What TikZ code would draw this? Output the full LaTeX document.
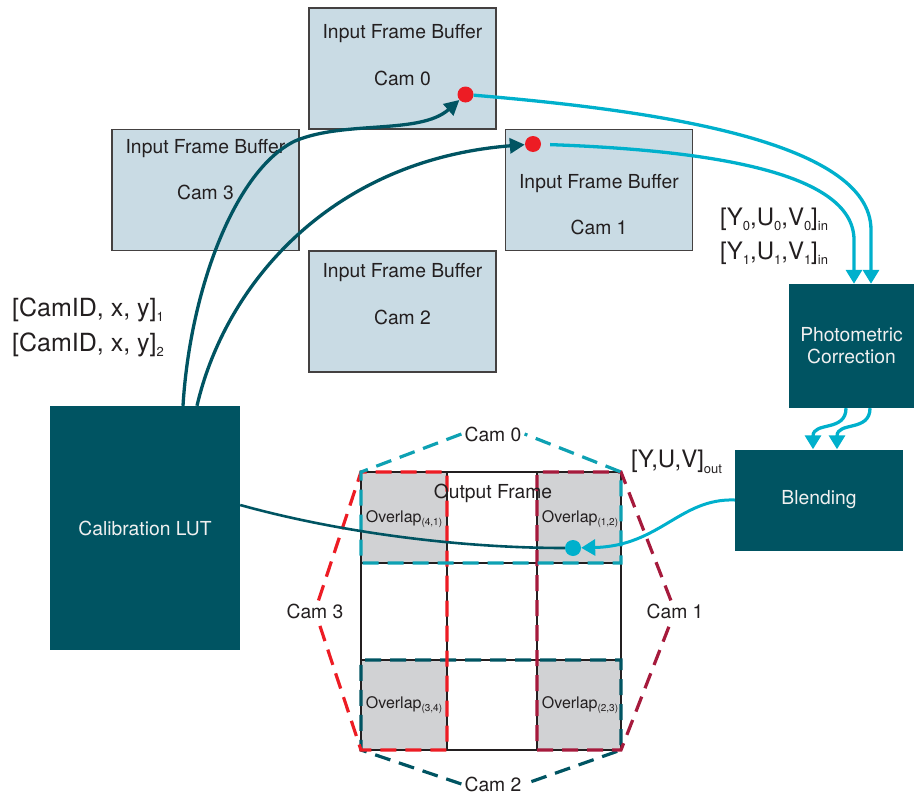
\documentclass[tikz,border=0pt]{standalone}
\usepackage{fontspec}
\setmainfont{TeX Gyre Heros}
\usetikzlibrary{arrows.meta,calc}

\definecolor{deepteal}{HTML}{005462}
\definecolor{skycyan}{HTML}{00B0CC}
\definecolor{camzero}{HTML}{0EA1B3}
\definecolor{camthree}{HTML}{ED1C24}
\definecolor{camone}{HTML}{A61A3C}
\definecolor{buffill}{HTML}{C9DBE4}
\definecolor{lapgray}{HTML}{D1D2D4}
\definecolor{inkgray}{HTML}{231F20}
\definecolor{dotred}{HTML}{ED1C24}

% lowered small text for subscripts
\newcommand{\bigsub}[1]{\raisebox{-5.5pt}{\fontsize{13}{13}\selectfont #1}}
\newcommand{\lapsub}[1]{\raisebox{-3pt}{\fontsize{10}{10}\selectfont #1}}

\begin{document}
\begin{tikzpicture}[x=1pt,y=-1pt,
  buffer/.style={draw=inkgray!85, line width=1.4pt, fill=buffill,
    minimum width=187pt, minimum height=121pt, inner sep=0pt},
  buftext/.style={text=inkgray, font=\fontsize{19.3}{22}\selectfont, inner sep=0pt},
  darkbox/.style={fill=deepteal, text=white!94!black,
    font=\fontsize{19.3}{22}\selectfont, inner sep=0pt, align=center},
  biglabel/.style={text=inkgray, align=left, anchor=west, inner sep=0pt},
  camlabel/.style={text=inkgray, font=\fontsize{19.3}{22}\selectfont, inner sep=3pt},
  laptext/.style={text=inkgray, font=\fontsize{16}{18}\selectfont, inner sep=0pt},
  reddot/.style={circle, fill=dotred, minimum size=16pt, inner sep=0pt},
  cyandot/.style={circle, fill=skycyan, minimum size=16pt, inner sep=0pt},
  camdash/.style={line width=3.2pt, dash pattern=on 16pt off 9pt},
  tealarrow/.style={draw=deepteal, line width=3.3pt,
    -{Triangle[length=15pt,width=15pt]}},
  cyanarrow/.style={draw=skycyan, line width=3.3pt,
    -{Triangle[length=14pt,width=16pt]}},
  gridline/.style={draw=inkgray, line width=1.3pt}
]
\useasboundingbox (0,0) rectangle (914,795);

% input frame buffers
\node[buffer] (buf0) at (402.5,68.5) {};
\node[buffer] (buf3) at (205.5,190) {};
\node[buffer] (buf1) at (599,190) {};
\node[buffer] (buf2) at (402.5,311.5) {};
\node[buftext] (b0t) at (402.5,34) {Input Frame Buffer};
\node[buftext] (b0c) at (402.5,78) {Cam 0};
\node[buftext] (b3t) at (205.5,149) {Input Frame Buffer};
\node[buftext] (b3c) at (205.5,192) {Cam 3};
\node[buftext] (b1t) at (599,184) {Input Frame Buffer};
\node[buftext] (b1c) at (599,227) {Cam 1};
\node[buftext] (b2t) at (402.5,273) {Input Frame Buffer};
\node[buftext] (b2c) at (402.5,317) {Cam 2};

% processing blocks
\node[darkbox, minimum width=190pt, minimum height=244pt] (lut) at (145,528) {Calibration LUT};
\node[darkbox, minimum width=125pt, minimum height=124pt] (photo) at (851.5,346) {Photometric\\Correction};
\node[darkbox, minimum width=168pt, minimum height=101pt] (blend) at (819,500) {Blending};

% data labels
\node[biglabel, font=\fontsize{25}{35}\selectfont] (lutdata) at (12,327)
  {{[}CamID, x, y{]}\bigsub{1}\\{[}CamID, x, y{]}\bigsub{2}};
\node[biglabel, font=\fontsize{24}{34}\selectfont] (yuvin) at (720,236)
  {{[}Y\bigsub{0},U\bigsub{0},V\bigsub{0}{]}\bigsub{in}\\{[}Y\bigsub{1},U\bigsub{1},V\bigsub{1}{]}\bigsub{in}};
\node[biglabel, font=\fontsize{24}{34}\selectfont] (yuvout) at (631,462)
  {{[}Y,U,V{]}\bigsub{out}};

% output frame: overlap regions and grid
\fill[lapgray] (361,472) rectangle (447,563);
\fill[lapgray] (537,472) rectangle (621,563);
\fill[lapgray] (361,660) rectangle (447,750);
\fill[lapgray] (537,660) rectangle (621,750);
\draw[gridline] (361,472) rectangle (621,750);
\draw[gridline] (447,472) -- (447,750) (537,472) -- (537,750)
  (361,563) -- (621,563) (361,660) -- (621,660);

% camera coverage outlines
\node[camlabel] (lbl0) at (493,434) {Cam 0};
\node[camlabel] (lbl2) at (493,784) {Cam 2};
\node[camlabel] (lbl3) at (315,611) {Cam 3};
\node[camlabel] (lbl1) at (675,611) {Cam 1};
\draw[camdash, draw=deepteal] (lbl2.west) -- (361,750) -- (361,660) -- (621,660) -- (621,750) -- (lbl2.east);
\draw[camdash, draw=camthree] (lbl3) -- (361,472) -- (447,472) -- (447,750) -- (361,750) -- (lbl3);
\draw[camdash, draw=camone] (lbl1) -- (621,472) -- (537,472) -- (537,750) -- (621,750) -- (lbl1);
\draw[camdash, draw=camzero] (lbl0.west) -- (361,472) -- (361,563) -- (621,563) -- (621,472) -- (lbl0.east);

\node[text=inkgray, font=\fontsize{19.3}{22}\selectfont, inner sep=0pt] (outframe) at (493,493) {Output Frame};
\node[laptext] (lap41) at (404,519) {Overlap\lapsub{(4,1)}};
\node[laptext] (lap12) at (580,519) {Overlap\lapsub{(1,2)}};
\node[laptext] (lap34) at (404,705) {Overlap\lapsub{(3,4)}};
\node[laptext] (lap23) at (580,705) {Overlap\lapsub{(2,3)}};

% sample points
\node[reddot] (dot0) at (465.5,94.5) {};
\node[reddot] (dot1) at (533,144) {};
\node[cyandot] (dotc) at (573,548) {};

% lookups from the calibration table
\draw[tealarrow] ([xshift=38pt]lut.north) .. controls (190,290) and (235,170) .. (295,141)
  .. controls (345,120) and (420,135) .. (dot0);
\draw[tealarrow] ([xshift=52pt]lut.north) .. controls (225,285) and (330,160) .. (dot1);
\draw[draw=deepteal, line width=2.6pt] ([yshift=23pt]lut.east) .. controls (330,530) and (450,548) .. (dotc);

% pixel data flow
\draw[cyanarrow] (dot0) .. controls (650,110) and (871,140) .. (871,230) -- ([xshift=19.5pt]photo.north);
\draw[cyanarrow, shorten <=9pt] (dot1) .. controls (700,150) and (854,170) .. (854,240) -- ([xshift=2.5pt]photo.north);
\draw[cyanarrow] ([xshift=-5.5pt]photo.south) .. controls +(0,24) and +(0,-28) .. ([xshift=-6pt]blend.north);
\draw[cyanarrow] ([xshift=18.5pt]photo.south) .. controls +(0,24) and +(0,-28) .. ([xshift=18pt]blend.north);
\draw[cyanarrow, line width=3pt] (blend.west) .. controls (680,498) and (660,546) .. (dotc);
\end{tikzpicture}
\end{document}
